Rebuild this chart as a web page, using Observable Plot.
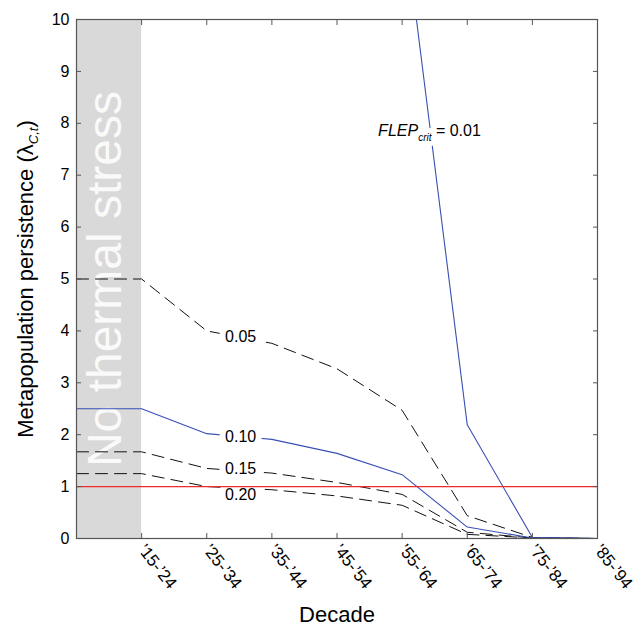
<!DOCTYPE html>
<html><head><meta charset="utf-8">
<script src="https://cdn.jsdelivr.net/npm/d3@7"></script>
<script src="https://cdn.jsdelivr.net/npm/@observablehq/plot@0.6"></script>
<style>
  html, body { margin: 0; padding: 0; background: #fff; }
  svg { font-family: "Liberation Sans", Arial, Helvetica, sans-serif; }
</style>
</head><body><div id="chart"></div>
<script>
// ---- data ----
const decadeIndex = [0, 1, 2, 3, 4, 5, 6, 7, 8];
const decadeLabels = ["", "’15-’24", "’25-’34", "’35-’44", "’45-’54", "’55-’64", "’65-’74", "’75-’84", "’85-’94"];
const tickIndex = [1, 2, 3, 4, 5, 6, 7, 8];
const yTicks = [0, 1, 2, 3, 4, 5, 6, 7, 8, 9, 10];

// Metapopulation persistence by FLEP_crit threshold
const flep01 = [null, null, null, null, null, 12.2, 2.19, 0.02, 0];
const flep05 = [5, 5, 4.0, 3.76, 3.27, 2.47, 0.44, 0.02, 0];
const flep10 = [2.5, 2.5, 2.02, 1.91, 1.64, 1.23, 0.22, 0.01, 0];
const flep15 = [1.67, 1.67, 1.35, 1.26, 1.08, 0.85, 0.12, 0.01, 0];
const flep20 = [1.25, 1.25, 1.0, 0.94, 0.82, 0.64, 0.08, 0.01, 0];

const replacementLevel = [1];
const noStressSpan = [{start: 0, end: 1}];

// inline label annotations
const lineLabels = ["0.05", "0.10", "0.15", "0.20"];
const lineLabelX = [2.52, 2.52, 2.52, 2.52];
const lineLabelY = [3.89, 1.95, 1.35, 0.85];
const flepLabel = {x: 5.42, y: 7.86};

// ---- build ----
const rows = (arr) => decadeIndex.map((d, i) => ({d, v: arr[i]})).filter(r => r.v != null);
const BLUE = "#3a4fb6", RED = "#f02b2b", AXIS = "#555", DASH = "12,7";

const plot = Plot.plot({
  width: 638, height: 628,
  marginLeft: 76, marginRight: 41, marginTop: 19, marginBottom: 90,
  style: {fontFamily: "'Liberation Sans', Arial, sans-serif", fontSize: "16px", background: "#fff", color: "#000"},
  x: {domain: [0, 8]},
  y: {domain: [0, 10]},
  marks: [
    Plot.rect(noStressSpan, {x1: "start", x2: "end", y1: 0, y2: 10, fill: "#d9d9d9"}),
    Plot.text(["No thermal stress"], {x: 0.45, y: 5.0, text: d => d, rotate: -90, fontSize: 48, fill: "#fafafa", lineAnchor: "middle"}),
    Plot.line(rows(flep05), {x: "d", y: "v", stroke: "#111", strokeWidth: 1, strokeDasharray: DASH}),
    Plot.line(rows(flep15), {x: "d", y: "v", stroke: "#111", strokeWidth: 1, strokeDasharray: DASH}),
    Plot.line(rows(flep20), {x: "d", y: "v", stroke: "#111", strokeWidth: 1, strokeDasharray: DASH}),
    Plot.line(rows(flep10), {x: "d", y: "v", stroke: BLUE, strokeWidth: 1.1}),
    Plot.line(rows(flep01), {x: "d", y: "v", stroke: BLUE, strokeWidth: 1.1, clip: true}),
    Plot.text(lineLabels, {x: (d, i) => lineLabelX[i], y: (d, i) => lineLabelY[i], text: d => d, fontSize: 16, fill: "#000", stroke: "white", strokeWidth: 12}),
    Plot.text([flepLabel], {x: "x", y: "y", text: () => "FLEPLABEL", fontSize: 16, fill: "#000", stroke: "white", strokeWidth: 10}),
    Plot.ruleY(replacementLevel, {stroke: RED, strokeWidth: 1.1}),
    Plot.frame({stroke: AXIS, strokeWidth: 1.2}),
    Plot.axisX(tickIndex, {anchor: "bottom", tickSize: -5, tickFormat: () => "", stroke: AXIS, label: null}),
    Plot.axisX(tickIndex, {anchor: "top", tickSize: -5, tickFormat: () => "", stroke: AXIS, label: null}),
    Plot.axisY(yTicks, {anchor: "left", tickSize: -5, tickFormat: () => "", stroke: AXIS, label: null}),
    Plot.axisY(yTicks, {anchor: "right", tickSize: -5, tickFormat: () => "", stroke: AXIS, label: null}),
    Plot.axisY(yTicks, {anchor: "left", tickSize: 0, tickPadding: 7, fontSize: 16, fill: "#000", tickFormat: d => String(d), label: null}),
    Plot.axisX(tickIndex, {anchor: "bottom", tickSize: 0, tickPadding: 8, tickRotate: 52, textAnchor: "start", fontSize: 17, fill: "#000", tickFormat: d => decadeLabels[d], label: null}),
    Plot.text(["YLABEL"], {frameAnchor: "left", dx: -51, rotate: -90, text: d => d, fontSize: 22, fill: "#000", textAnchor: "middle", lineAnchor: "middle"}),
    Plot.text(["Decade"], {frameAnchor: "bottom", dy: 76, text: d => d, fontSize: 22, fill: "#000", textAnchor: "middle", lineAnchor: "middle"})
  ]
});

// rich text (italic / subscripts)
const root = plot.tagName.toLowerCase() === "svg" ? plot : plot.querySelector("svg");
const findText = (s) => d3.select(Array.from(root.querySelectorAll("text")).find(t => t.textContent === s));

const fl = findText("FLEPLABEL");
fl.text("");
fl.append("tspan").attr("font-style", "italic").text("FLEP");
fl.append("tspan").attr("font-style", "italic").attr("font-size", 10).attr("dy", 5).text("crit");
fl.append("tspan").attr("dy", -5).text(" = 0.01");

const yl = findText("YLABEL");
yl.text("");
yl.append("tspan").text("Metapopulation persistence (λ");
yl.append("tspan").attr("font-style", "italic").attr("font-size", 13).attr("dy", 5).text("C,t");
yl.append("tspan").attr("dy", -5).text(")");

document.getElementById("chart").appendChild(plot);
</script>
</body></html>
